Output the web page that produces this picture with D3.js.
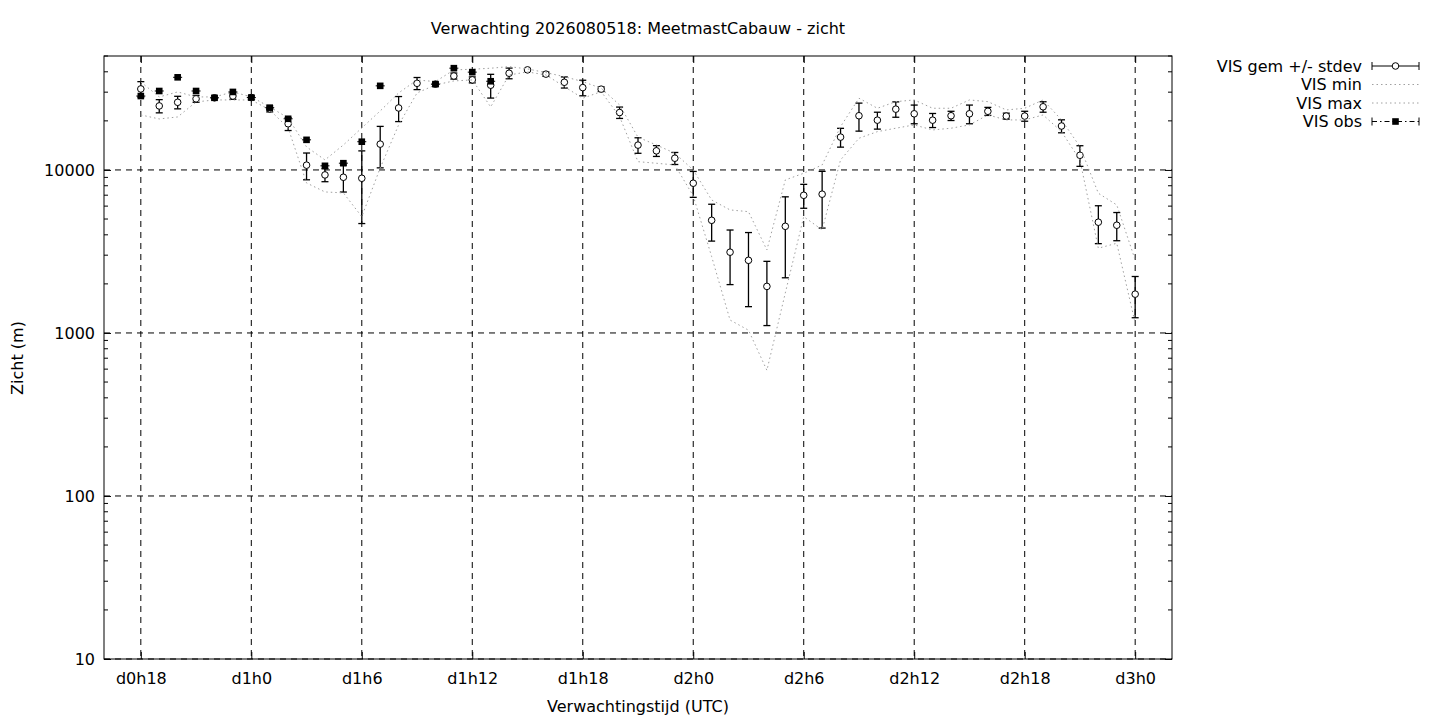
<!DOCTYPE html>
<html>
<head>
<meta charset="utf-8">
<script src="https://cdn.jsdelivr.net/npm/d3@7"></script>
<style>
  body { margin: 0; background: #fff; }
  text { font-family: "DejaVu Sans", sans-serif; font-size: 16px; fill: #000; }
</style>
</head>
<body>
<div id="chart"></div>
<script>
// forecast hours (hours since d0h0)
const hours = [18, 19, 20, 21, 22, 23, 24, 25, 26, 27,
  28, 29, 30, 31, 32, 33, 34, 35, 36, 37,
  38, 39, 40, 41, 42, 43, 44, 45, 46, 47,
  48, 49, 50, 51, 52, 53, 54, 55, 56, 57,
  58, 59, 60, 61, 62, 63, 64, 65, 66, 67,
  68, 69, 70, 71, 72];

// ensemble mean visibility (m)
const visMean = [31400, 24700, 26000, 27300, 27700, 28400, 27800, 23700, 19200, 10700,
  9320, 9020, 8890, 14400, 24000, 34000, 33600, 37700, 35700, 33100,
  39200, 41100, 38700, 34500, 32000, 31300, 22500, 14200, 13100, 11800,
  8290, 4910, 3130, 2790, 1930, 4510, 6990, 7100, 15900, 21500,
  20200, 23600, 22100, 20200, 21500, 22100, 22900, 21400, 21400, 24400,
  18600, 12300, 4780, 4580, 1730];

// standard deviation (m)
const visStd = [3400, 2300, 2300, 1300, 800, 1300, 800, 1000, 1750, 2000,
  850, 1700, 4200, 4100, 4200, 2900, 1000, 1600, 1500, 5500,
  2950, 800, 1200, 2700, 3500, 1000, 1800, 1550, 1000, 1000,
  1500, 1250, 1150, 1340, 820, 2330, 1170, 2700, 2100, 4200,
  2400, 2550, 2900, 2000, 1400, 2900, 1300, 900, 1500, 1800,
  1700, 1780, 1250, 900, 490];

const visMin = [21750, 20550, 21140, 26140, 26880, 26880, 26880, 23340, 18100, 8320,
  7330, 7230, 5170, 10290, 18890, 29680, 33230, 35160, 35660, 24350,
  38260, 39930, 38260, 32440, 27540, 30230, 21230, 11240, 10990, 10730,
  6930, 2940, 1200, 1040, 590, 1760, 5170, 4290, 11520, 15650,
  17180, 18030, 18890, 17590, 18030, 18890, 21750, 20270, 20270, 21750,
  17180, 11520, 3310, 3550, 1150];

const visMax = [34660, 28050, 30100, 28050, 28050, 30100, 28050, 24350, 20840, 13840,
  11520, 14230, 18100, 23010, 29680, 35660, 34810, 41070, 41480, 42070,
  43030, 41650, 39540, 37360, 34810, 31710, 25050, 15870, 14230, 12660,
  10000, 6545, 5685, 5547, 3229, 8685, 9545, 10730, 18440, 27540,
  23900, 26240, 26880, 23900, 23900, 26880, 26240, 23340, 23900, 26880,
  20270, 13900, 7195, 6099, 2804];

// observations, only up to h37 (null = missing)
const visObs = [28400, 30500, 37000, 30500, 27700, 30100, 27800, 24100, 20600, 15300,
  10600, 11000, 14900, 32800, null, null, 33600, 42100, 39800, 35000];

const xTicks = [18, 24, 30, 36, 42, 48, 54, 60, 66, 72];
const yTicks = [10, 100, 1000, 10000];

const legendLabels = ["VIS gem +/- stdev", "VIS min", "VIS max", "VIS obs"];

const svgWidth = 1440;
const svgHeight = 720;

const margin = {
  top: 56,
  right: 268,
  bottom: 61,
  left: 104
};

const width = svgWidth - margin.left - margin.right;
const height = svgHeight - margin.top - margin.bottom;

const svg = d3.select("#chart")
  .append("svg")
  .attr("width", svgWidth)
  .attr("height", svgHeight);

const chartGroup = svg.append("g")
  .attr("transform", `translate(${margin.left}, ${margin.top})`);

// scales
const xScale = d3.scaleLinear()
  .domain([16, 74])
  .range([0, width]);

const yScale = d3.scaleLog()
  .domain([10, 50000])
  .range([height, 0]);

// grid
chartGroup.append("g")
  .selectAll("line")
  .data(xTicks)
  .join("line")
  .attr("x1", d => xScale(d))
  .attr("x2", d => xScale(d))
  .attr("y1", 0)
  .attr("y2", height)
  .attr("stroke", "#000")
  .attr("stroke-dasharray", "6,5");

chartGroup.append("g")
  .selectAll("line")
  .data(yTicks)
  .join("line")
  .attr("x1", 0)
  .attr("x2", width)
  .attr("y1", d => yScale(d))
  .attr("y2", d => yScale(d))
  .attr("stroke", "#000")
  .attr("stroke-dasharray", "6,5");

// axes
const fmtHour = h => `d${Math.floor(h / 24)}h${h % 24}`;

const bottomAxis = d3.axisBottom(xScale)
  .tickValues(xTicks)
  .tickFormat(fmtHour)
  .tickSizeInner(-7)
  .tickSizeOuter(0)
  .tickPadding(14);

const topAxis = d3.axisTop(xScale)
  .tickValues(xTicks)
  .tickFormat("")
  .tickSizeInner(-7)
  .tickSizeOuter(0);

const leftAxis = d3.axisLeft(yScale)
  .tickValues(yTicks)
  .tickFormat(d3.format("d"))
  .tickSizeInner(-7)
  .tickSizeOuter(0)
  .tickPadding(9);

const rightAxis = d3.axisRight(yScale)
  .tickValues(yTicks)
  .tickFormat("")
  .tickSizeInner(-7)
  .tickSizeOuter(0);

chartGroup.append("g").attr("transform", `translate(0, ${height})`).call(bottomAxis);
chartGroup.append("g").call(topAxis);
chartGroup.append("g").call(leftAxis);
chartGroup.append("g").attr("transform", `translate(${width}, 0)`).call(rightAxis);
chartGroup.selectAll(".domain").remove();
chartGroup.selectAll(".tick line").attr("stroke", "#000");

// minor log ticks
const minorTicks = [];
yTicks.forEach(dec => {
  for (let k = 2; k <= 9; k++) {
    if (dec * k <= 50000) minorTicks.push(dec * k);
  }
});

[[0, 4], [width, width - 4]].forEach(([a, b]) => {
  chartGroup.append("g")
    .selectAll("line")
    .data(minorTicks)
    .join("line")
    .attr("x1", a)
    .attr("x2", b)
    .attr("y1", d => yScale(d))
    .attr("y2", d => yScale(d))
    .attr("stroke", "#000");
});

// frame
chartGroup.append("rect")
  .attr("width", width)
  .attr("height", height)
  .attr("fill", "none")
  .attr("stroke", "#000");

// Step 1: mean +/- stdev error bars
const meanData = hours.map((h, i) => ({ h: h, m: visMean[i], s: visStd[i] }));

const meanGroup = chartGroup.append("g")
  .selectAll("g")
  .data(meanData)
  .join("g")
  .attr("transform", d => `translate(${xScale(d.h)}, 0)`);

meanGroup.append("line")
  .attr("y1", d => yScale(d.m - d.s))
  .attr("y2", d => yScale(d.m + d.s))
  .attr("stroke", "#000")
  .attr("stroke-width", 1.3);

meanGroup.append("line")
  .attr("x1", -3.5).attr("x2", 3.5)
  .attr("y1", d => yScale(d.m + d.s))
  .attr("y2", d => yScale(d.m + d.s))
  .attr("stroke", "#000")
  .attr("stroke-width", 1.3);

meanGroup.append("line")
  .attr("x1", -3.5).attr("x2", 3.5)
  .attr("y1", d => yScale(d.m - d.s))
  .attr("y2", d => yScale(d.m - d.s))
  .attr("stroke", "#000")
  .attr("stroke-width", 1.3);

meanGroup.append("circle")
  .attr("cy", d => yScale(d.m))
  .attr("r", 3.3)
  .attr("fill", "#fff")
  .attr("stroke", "#000");

// Step 2: min / max dotted lines
const line = d3.line()
  .x((d, i) => xScale(hours[i]))
  .y(d => yScale(d));

[visMin, visMax].forEach(series => {
  chartGroup.append("path")
    .datum(series)
    .attr("d", line)
    .attr("fill", "none")
    .attr("stroke", "#a0a0a0")
    .attr("stroke-width", 1)
    .attr("stroke-dasharray", "1.5,3");
});

// Step 3: observations
const obsData = visObs
  .map((v, i) => ({ h: hours[i], v: v }))
  .filter(d => d.v !== null);

const obsGroup = chartGroup.append("g")
  .selectAll("g")
  .data(obsData)
  .join("g")
  .attr("transform", d => `translate(${xScale(d.h)}, ${yScale(d.v)})`);

obsGroup.append("line")
  .attr("x1", -4.5).attr("x2", 4.5)
  .attr("stroke", "#000");

obsGroup.append("rect")
  .attr("x", -3.3).attr("y", -3.3)
  .attr("width", 6.6).attr("height", 6.6)
  .attr("fill", "#000");

// labels
svg.append("text")
  .attr("x", 638)
  .attr("y", 34)
  .attr("text-anchor", "middle")
  .text("Verwachting 2026080518: MeetmastCabauw - zicht");

svg.append("text")
  .attr("x", 638)
  .attr("y", 712)
  .attr("text-anchor", "middle")
  .text("Verwachtingstijd (UTC)");

svg.append("text")
  .attr("transform", "translate(23, 358) rotate(-90)")
  .attr("text-anchor", "middle")
  .text("Zicht (m)");

// legend
const legendRows = [66, 84.5, 103, 121.5];
const lx1 = 1372, lx2 = 1419, lmid = (lx1 + lx2) / 2;

legendLabels.forEach((label, i) => {
  svg.append("text")
    .attr("x", 1362)
    .attr("y", legendRows[i])
    .attr("dy", "0.35em")
    .attr("text-anchor", "end")
    .text(label);
});

const legend = svg.append("g");

// mean sample
legend.append("line")
  .attr("x1", lx1).attr("x2", lx2)
  .attr("y1", legendRows[0]).attr("y2", legendRows[0])
  .attr("stroke", "#000");
[lx1, lx2].forEach(x => {
  legend.append("line")
    .attr("x1", x).attr("x2", x)
    .attr("y1", legendRows[0] - 4).attr("y2", legendRows[0] + 4)
    .attr("stroke", "#000");
});
legend.append("circle")
  .attr("cx", lmid).attr("cy", legendRows[0])
  .attr("r", 3.3)
  .attr("fill", "#fff")
  .attr("stroke", "#000");

// min / max samples
[1, 2].forEach(i => {
  legend.append("line")
    .attr("x1", lx1).attr("x2", lx2)
    .attr("y1", legendRows[i]).attr("y2", legendRows[i])
    .attr("stroke", "#a0a0a0")
    .attr("stroke-dasharray", "1.5,3");
});

// obs sample
legend.append("line")
  .attr("x1", lx1).attr("x2", lx2)
  .attr("y1", legendRows[3]).attr("y2", legendRows[3])
  .attr("stroke", "#000")
  .attr("stroke-dasharray", "5,3,1.5,3");
[lx1, lx2].forEach(x => {
  legend.append("line")
    .attr("x1", x).attr("x2", x)
    .attr("y1", legendRows[3] - 4).attr("y2", legendRows[3] + 4)
    .attr("stroke", "#000");
});
legend.append("rect")
  .attr("x", lmid - 3.3).attr("y", legendRows[3] - 3.3)
  .attr("width", 6.6).attr("height", 6.6)
  .attr("fill", "#000");
</script>
</body>
</html>
